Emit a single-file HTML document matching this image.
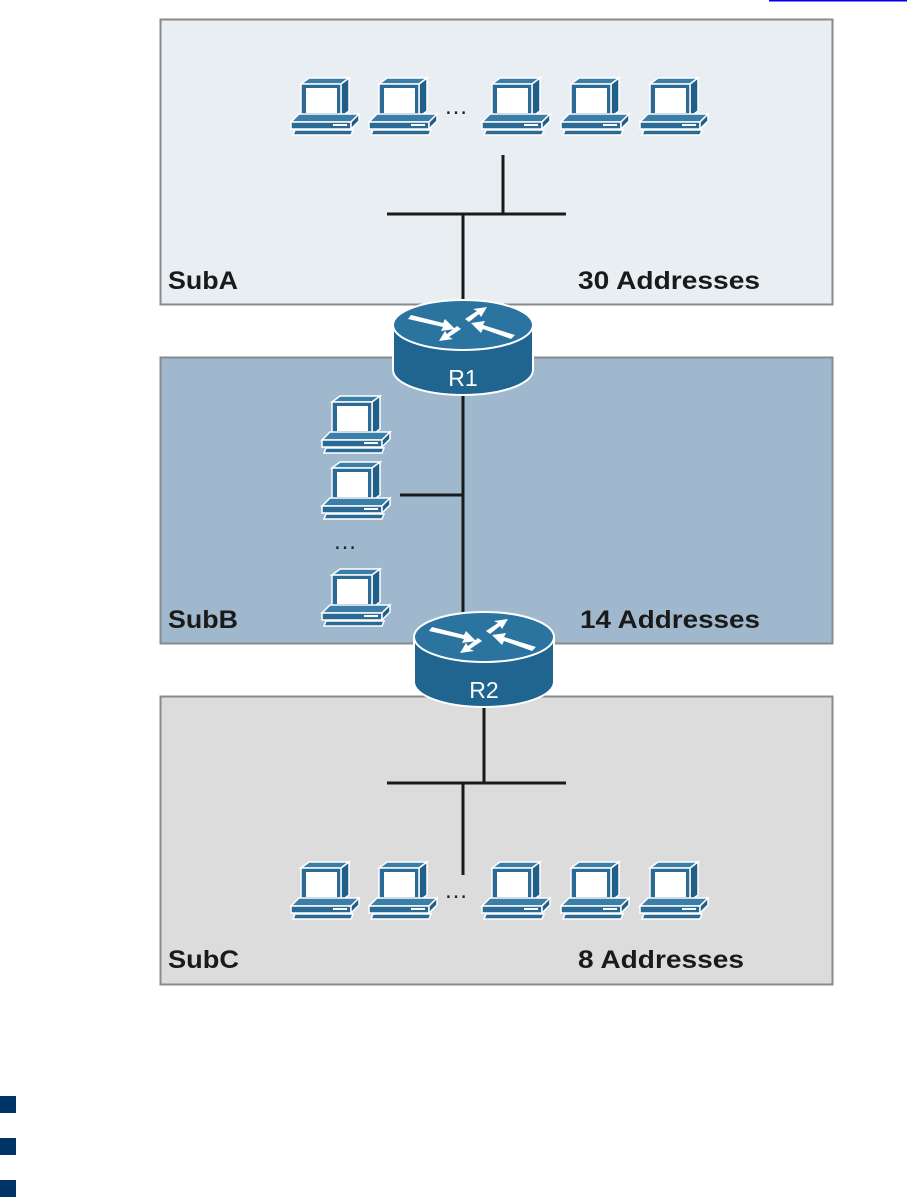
<!DOCTYPE html>
<html><head><meta charset="utf-8"><style>
html,body{margin:0;padding:0;background:#fff;width:907px;height:1197px;overflow:hidden}
svg{display:block}
text{font-family:"Liberation Sans",sans-serif}
</style></head><body>
<svg width="907" height="1197" viewBox="0 0 907 1197" xmlns="http://www.w3.org/2000/svg">
<defs>
<g id="pc">
  <polygon points="10,6 18,0 58,0 50,6" fill="#3b7fa8" stroke="#fff" stroke-width="1.5"/>
  <polygon points="50,6 58,0 58,33 50,39" fill="#1f5f88" stroke="#fff" stroke-width="1.5"/>
  <rect x="10" y="6" width="40" height="33" fill="#2a6a94" stroke="#fff" stroke-width="1.5"/>
  <rect x="15" y="10" width="31" height="25" fill="#fff"/>
  <polygon points="0,44 8,36 68,36 60,44" fill="#3b7fa8" stroke="#fff" stroke-width="1.5"/>
  <rect x="0" y="44" width="60" height="7" fill="#2a6a94" stroke="#fff" stroke-width="1.5"/>
  <polygon points="60,44 68,36 68,43 60,51" fill="#1f5f88" stroke="#fff" stroke-width="1.5"/>
  <rect x="42" y="46" width="14" height="2" fill="#fff"/>
  <polygon points="4,52 62,52 60,57 2,57" fill="#2a6a94" stroke="#fff" stroke-width="1.5"/>
</g>
<g id="router">
  <path d="M-70,0 L-70,45 A70,25 0 0 0 70,45 L70,0 Z" fill="#1f6590" stroke="#fff" stroke-width="2"/>
  <ellipse cx="0" cy="0" rx="70" ry="25" fill="#2b74a0" stroke="#fff" stroke-width="2"/>
  <g fill="#fff">
    <polygon points="-55,-6 -20,2 -22,6 -8,4 -18,-6 -20,-2 -52,-10"/>
    <polygon points="52,10 20,0 22,-4 8,-2 18,8 20,4 48,14"/>
    <polygon points="2,-6 14,-14 10,-16 24,-18 18,-8 16,-11 6,-3"/>
    <polygon points="-2,4 -14,12 -10,14 -24,16 -18,6 -16,9 -6,1"/>
  </g>
</g>
</defs>
<line x1="769" y1="0.5" x2="907" y2="0.5" stroke="#0000ee" stroke-width="2"/>
<rect x="160.5" y="19.5" width="672" height="285" fill="#e8eef1" stroke="#8a8a8a" stroke-width="2"/>
<rect x="160.5" y="357.5" width="672" height="286" fill="#a0b8cd" stroke="#8a8a8a" stroke-width="2"/>
<rect x="160.5" y="696.5" width="672" height="288" fill="#dcdcdc" stroke="#8a8a8a" stroke-width="2"/>
<g stroke="#1a1a1a" stroke-width="3">
<line x1="503" y1="155" x2="503" y2="214"/>
<line x1="387" y1="214" x2="566" y2="214"/>
<line x1="463" y1="214" x2="463" y2="320"/>
<line x1="463" y1="390" x2="463" y2="625"/>
<line x1="400" y1="495" x2="463" y2="495"/>
<line x1="484" y1="700" x2="484" y2="783"/>
<line x1="387" y1="783" x2="566" y2="783"/>
<line x1="463" y1="783" x2="463" y2="875"/>
</g>
<use href="#pc" x="291" y="78"/>
<use href="#pc" x="369" y="78"/>
<use href="#pc" x="482" y="78"/>
<use href="#pc" x="561" y="78"/>
<use href="#pc" x="640" y="78"/>
<text x="444" y="114" font-size="24" fill="#222">…</text>
<use href="#pc" x="322" y="396"/>
<use href="#pc" x="322" y="462"/>
<use href="#pc" x="322" y="569"/>
<text x="333" y="549" font-size="24" fill="#222">…</text>
<use href="#pc" x="291" y="862"/>
<use href="#pc" x="369" y="862"/>
<use href="#pc" x="482" y="862"/>
<use href="#pc" x="561" y="862"/>
<use href="#pc" x="640" y="862"/>
<text x="444" y="898" font-size="24" fill="#222">…</text>
<use href="#router" x="463" y="325"/>
<text x="463" y="386" font-size="23" fill="#fff" text-anchor="middle">R1</text>
<use href="#router" x="484" y="637"/>
<text x="484" y="698" font-size="23" fill="#fff" text-anchor="middle">R2</text>
<g font-size="25" font-weight="bold" fill="#1a1a1a" stroke="none">
<text x="168" y="289" textLength="70" lengthAdjust="spacingAndGlyphs">SubA</text>
<text x="578" y="289" textLength="182" lengthAdjust="spacingAndGlyphs">30 Addresses</text>
<text x="168" y="628" textLength="70" lengthAdjust="spacingAndGlyphs">SubB</text>
<text x="580" y="628" textLength="180" lengthAdjust="spacingAndGlyphs">14 Addresses</text>
<text x="168" y="968" textLength="71" lengthAdjust="spacingAndGlyphs">SubC</text>
<text x="578" y="968" textLength="166" lengthAdjust="spacingAndGlyphs">8 Addresses</text>
</g>
<rect x="0" y="1096" width="16" height="17" fill="#003366"/>
<rect x="0" y="1138" width="16" height="17" fill="#003366"/>
<rect x="0" y="1180" width="16" height="17" fill="#003366"/>
</svg>
</body></html>
